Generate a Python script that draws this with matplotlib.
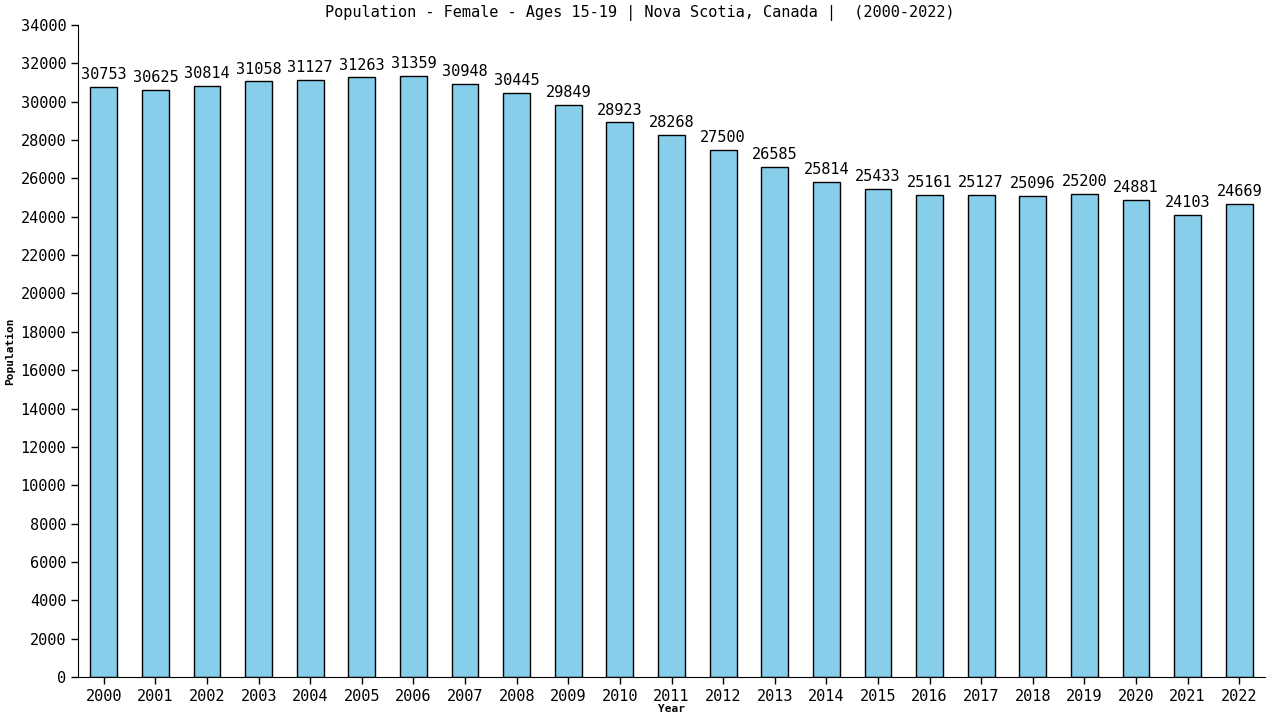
import matplotlib
matplotlib.use("Agg")
import matplotlib.pyplot as plt

years = [str(y) for y in range(2000, 2023)]
values = [30753, 30625, 30814, 31058, 31127, 31263, 31359, 30948, 30445, 29849,
          28923, 28268, 27500, 26585, 25814, 25433, 25161, 25127, 25096, 25200,
          24881, 24103, 24669]
yticks = list(range(0, 34001, 2000))

plt.rcParams['font.family'] = ['DejaVu Sans Mono']
fig = plt.figure(figsize=(12.8, 7.2), dpi=100)
ax = fig.add_axes([78/1280, 43/720, (1265-78)/1280, (677-25)/720])
x = list(range(len(years)))
bars = ax.bar(x, values, width=0.52, color='#87CEEB', edgecolor='black', linewidth=1)
for xi, v in zip(x, values):
    ax.text(xi, v + 250, str(v), ha='center', va='bottom', fontsize=11)
ax.set_xlim(-0.5, len(years) - 0.5)
ax.set_ylim(0, 34000)
ax.set_yticks(yticks)
ax.set_yticklabels([str(t) for t in yticks], fontsize=11)
ax.set_xticks(x)
ax.set_xticklabels(years, fontsize=11)
ax.spines['top'].set_visible(False)
ax.spines['right'].set_visible(False)
ax.tick_params(axis='both', length=5, width=1)
ax.set_xlabel('Year', fontsize=8, fontweight='bold', labelpad=0)
ax.set_ylabel('Population', fontsize=8, fontweight='bold', labelpad=4)
fig.text(0.5, 1 - 13/720, 'Population - Female - Ages 15-19 | Nova Scotia, Canada |  (2000-2022)',
         ha='center', va='center', fontsize=11)
fig.savefig('out.png', dpi=100)
